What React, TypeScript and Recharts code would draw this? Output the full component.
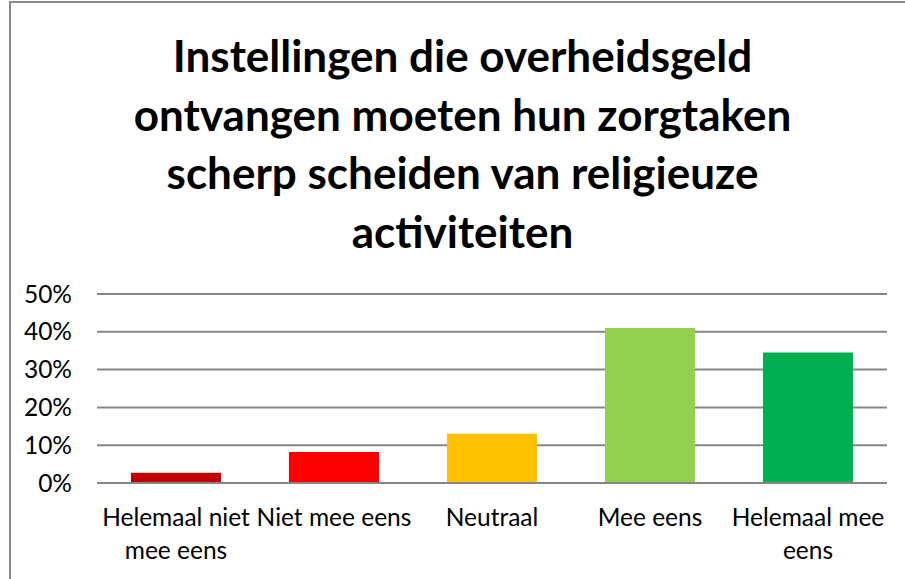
import { BarChart, Bar, XAxis, YAxis, CartesianGrid, Cell } from 'recharts'

const categories = ['Helemaal niet\nmee eens', 'Niet mee eens', 'Neutraal', 'Mee eens', 'Helemaal mee\neens']
const shares = [2.7, 8.2, 13.0, 41.0, 34.5]
const barColors = ['#C00000', '#FF0000', '#FFC000', '#92D050', '#00B050']
const yTicks = [0, 10, 20, 30, 40, 50]
const titleLines = [
  'Instellingen die overheidsgeld',
  'ontvangen moeten hun zorgtaken',
  'scherp scheiden van religieuze',
  'activiteiten',
]

const data = categories.map((name, i) => ({ name, value: shares[i] }))

const font = 'Lato, "Open Sans", sans-serif'

function CategoryTick({ x, y, payload }: any) {
  const lines = String(payload.value).split('\n')
  return (
    <text x={x} y={y} textAnchor="middle" fill="#000" fontSize={24.5} fontFamily={font}>
      {lines.map((l, i) => (
        <tspan key={i} x={x} dy={i === 0 ? 35 : 32.5}>
          {l}
        </tspan>
      ))}
    </text>
  )
}

export default function App() {
  return (
    <div style={{ position: 'absolute', left: 0, top: 0, width: 905, height: 579, overflow: 'hidden', background: '#fff' }}>
      <div
        style={{
          position: 'absolute',
          left: 9,
          top: 1,
          width: 1000,
          height: 700,
          border: '2px solid #888',
          boxSizing: 'border-box',
        }}
      />
      <div
        style={{
          position: 'absolute',
          left: 0,
          top: 26,
          width: 925,
          textAlign: 'center',
          fontFamily: font,
          fontWeight: 'bold',
          fontSize: 44,
          lineHeight: '58.5px',
          color: '#000',
        }}
      >
        {titleLines.map((t, i) => (
          <div key={i}>{t}</div>
        ))}
      </div>
      <div style={{ position: 'absolute', left: 0, top: 0 }}>
        <BarChart
          width={905}
          height={579}
          data={data}
          margin={{ top: 294, right: 18, bottom: 16, left: 0 }}
          barCategoryGap="21.5%"
        >
          <CartesianGrid vertical={false} stroke="#868686" strokeWidth={2} />
          <XAxis
            dataKey="name"
            interval={0}
            height={80}
            tickLine={false}
            axisLine={{ stroke: '#868686', strokeWidth: 2 }}
            tick={<CategoryTick />}
          />
          <YAxis
            width={97}
            domain={[0, 50]}
            ticks={yTicks}
            tickFormatter={(v) => `${v}%`}
            axisLine={false}
            tickLine={false}
            tickSize={0}
            tickMargin={25}
            tick={{ fill: '#000', fontSize: 24.5, fontFamily: font }}
          />
          <Bar dataKey="value" isAnimationActive={false}>
            {data.map((d, i) => (
              <Cell key={d.name} fill={barColors[i]} />
            ))}
          </Bar>
        </BarChart>
      </div>
    </div>
  )
}
